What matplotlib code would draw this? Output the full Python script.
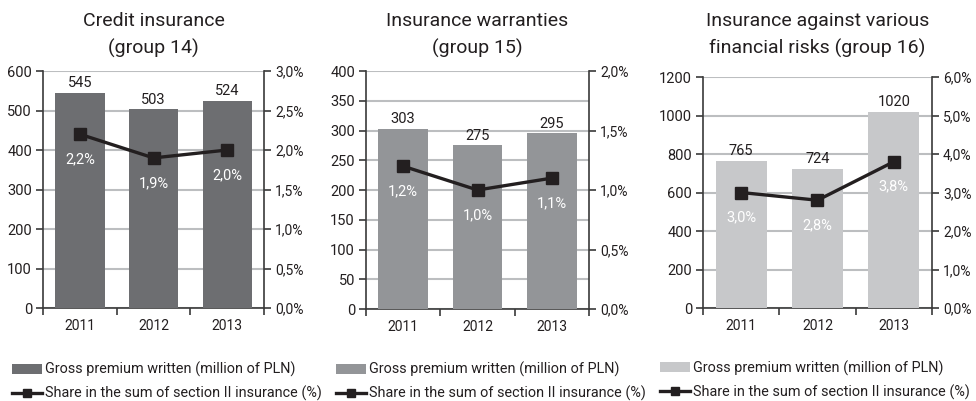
import matplotlib
matplotlib.use("Agg")
import matplotlib.pyplot as plt
from matplotlib.ticker import FuncFormatter

plt.rcParams["font.family"] = ["Roboto", "DejaVu Sans"]

# dane
years = ["2011", "2012", "2013"]
titles = ["Credit insurance\n(group 14)",
          "Insurance warranties\n(group 15)",
          "Insurance against various\nfinancial risks (group 16)"]
premium_14 = [545, 503, 524]
premium_15 = [303, 275, 295]
premium_16 = [765, 724, 1020]
share_14 = [2.2, 1.9, 2.0]
share_15 = [1.2, 1.0, 1.1]
share_16 = [3.0, 2.8, 3.8]
bar_label = "Gross premium written (million of PLN)"
line_label = "Share in the sum of section II insurance (%)"

panels = [
    dict(prem=premium_14, share=share_14, color="#6d6e71", ymax=600, ystep=100,
         pmax=3.0, pstep=0.5, pos=[0.0441, 0.2319, 0.2264, 0.591], leg=(0.012, 0.098)),
    dict(prem=premium_15, share=share_15, color="#939598", ymax=400, ystep=50,
         pmax=2.0, pstep=0.5, pos=[0.375, 0.2294, 0.2285, 0.5935], leg=(0.344, 0.098)),
    dict(prem=premium_16, share=share_16, color="#c7c8ca", ymax=1200, ystep=200,
         pmax=6.0, pstep=1.0, pos=[0.7203, 0.2319, 0.2346, 0.576], leg=(0.676, 0.101)),
]

dark = "#3a3a3a"
txt = "#231f20"

fig = plt.figure(figsize=(9.76, 4.01), dpi=100)

for i, p in enumerate(panels):
    ax = fig.add_axes(p["pos"])
    x = list(range(len(years)))
    bars = ax.bar(x, p["prem"], width=0.67, color=p["color"], zorder=3, label=bar_label)
    for xi, v in zip(x, p["prem"]):
        ax.annotate(str(v), (xi, v), xytext=(0, 2), textcoords="offset points",
                    ha="center", va="bottom", fontsize=10.5, color=txt, zorder=5)
    ax.set_xlim(-0.5, 2.5)
    ax.set_ylim(0, p["ymax"])
    ax.set_yticks(range(0, p["ymax"] + 1, p["ystep"]))
    ax.set_xticks(x)
    ax.set_xticklabels(years)
    ax.set_xticks([-0.5, 0.5, 1.5, 2.5], minor=True)
    ax.tick_params(axis="x", which="major", length=0, pad=8, labelsize=10, colors=txt)
    ax.tick_params(axis="x", which="minor", length=5, width=1.2, color=dark)
    ax.tick_params(axis="y", length=5, width=1.2, color=dark, labelsize=10.5, labelcolor=txt, pad=3)
    ax.yaxis.grid(True, color="#bcbec0", linewidth=1.5, zorder=0)
    ax.set_axisbelow(True)
    for s in ["top", "right"]:
        ax.spines[s].set_visible(False)
    for s in ["left", "bottom"]:
        ax.spines[s].set_color(dark)
        ax.spines[s].set_linewidth(1.2)

    ax2 = ax.twinx()
    line, = ax2.plot(x, p["share"], color="#231f20", linewidth=2.4, marker="s",
                     markersize=8, zorder=4, label=line_label)
    for xi, v in zip(x, p["share"]):
        ax2.annotate(("%.1f%%" % v).replace(".", ","), (xi, v), xytext=(0, -18),
                     textcoords="offset points", ha="center", va="center",
                     fontsize=10.5, color="white")
    ax2.set_ylim(0, p["pmax"])
    n = int(round(p["pmax"] / p["pstep"]))
    ax2.set_yticks([k * p["pstep"] for k in range(n + 1)])
    ax2.yaxis.set_major_formatter(FuncFormatter(lambda v, _: ("%.1f%%" % v).replace(".", ",")))
    ax2.tick_params(axis="y", length=5, width=1.2, color=dark, labelsize=10, labelcolor=txt, pad=3)
    for s in ["top", "left", "bottom"]:
        ax2.spines[s].set_visible(False)
    ax2.spines["right"].set_color(dark)
    ax2.spines["right"].set_linewidth(1.2)

    cx = p["pos"][0] + p["pos"][2] / 2
    fig.text(cx, 0.97, titles[i], ha="center", va="top", fontsize=14,
             color=txt, linespacing=1.6)

    fig.legend([bars, line], [bar_label, line_label], loc="upper left",
               bbox_to_anchor=p["leg"], frameon=False, fontsize=10.4,
               handlelength=2.1, handletextpad=0.2, labelspacing=0.6,
               borderaxespad=0, borderpad=0, labelcolor=txt, markerscale=0.7)

fig.savefig("out.png", dpi=100)
